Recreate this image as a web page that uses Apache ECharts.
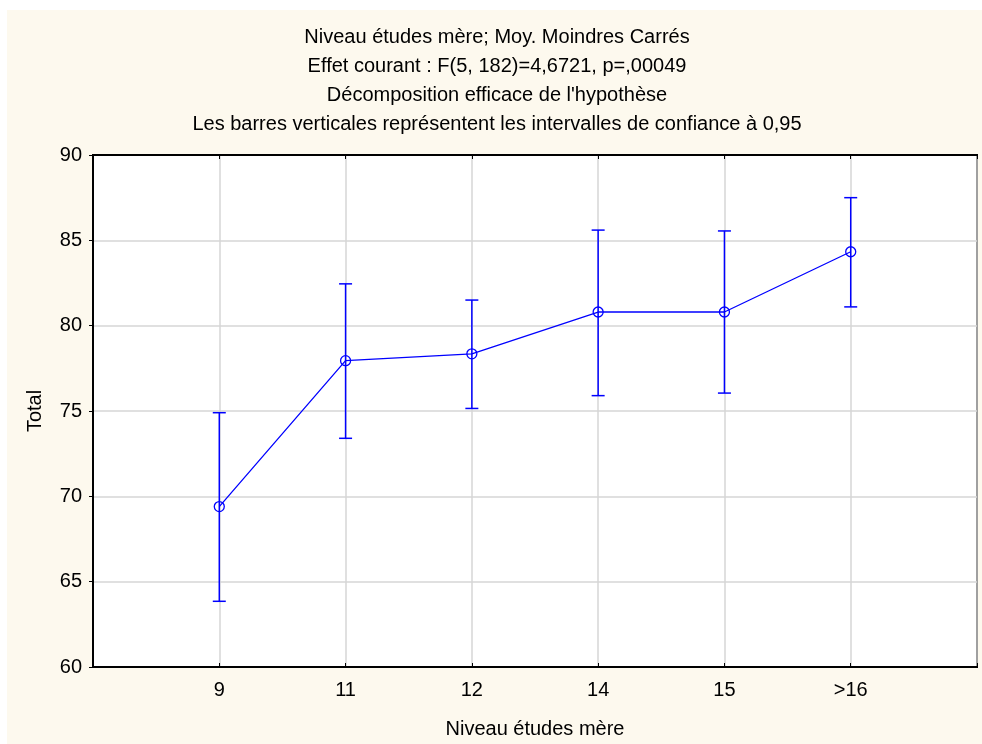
<!DOCTYPE html>
<html>
<head>
<meta charset="utf-8">
<script src="https://cdn.jsdelivr.net/npm/echarts@6/dist/echarts.min.js"></script>
<style>
  html, body { margin: 0; padding: 0; background: #ffffff; }
  #chart { width: 982px; height: 744px; }
</style>
</head>
<body>
<div id="chart"></div>
<script>
// Mean totals by mother's education level, with 95% confidence limits
const categories = ['9', '11', '12', '14', '15', '>16'];
const means = [69.4, 77.95, 78.35, 80.8, 80.8, 84.33];
const lowerCI = [63.85, 73.4, 75.15, 75.9, 76.05, 81.1];
const upperCI = [74.9, 82.45, 81.5, 85.6, 85.55, 87.5];
const yTicks = { min: 60, max: 90, step: 5 };

const titleLines = [
  'Niveau études mère; Moy. Moindres Carrés',
  'Effet courant : F(5, 182)=4,6721, p=,00049',
  "Décomposition efficace de l'hypothèse",
  'Les barres verticales représentent les intervalles de confiance à 0,95'
];

const FONT = '"Liberation Sans", Arial, sans-serif';
const FS = 20;
const BLUE = '#0000ff';

const linePoints = means.map((m, i) => [i + 1, m]);
const barData = categories.map((c, i) => [i + 1, lowerCI[i], upperCI[i]]);

const chart = echarts.init(document.getElementById('chart'), null, { renderer: 'canvas' });

chart.setOption({
  backgroundColor: '#ffffff',
  animation: false,
  textStyle: { fontFamily: FONT },
  graphic: [{
    type: 'rect',
    z: -10,
    silent: true,
    shape: { x: 7, y: 10, width: 975, height: 734 },
    style: { fill: '#fdf9ee' }
  }],
  title: {
    text: titleLines.join('\n'),
    left: 497,
    textAlign: 'center',
    top: 23,
    padding: 0,
    textStyle: {
      fontFamily: FONT,
      fontSize: FS,
      fontWeight: 'normal',
      color: '#000',
      lineHeight: 29
    }
  },
  grid: {
    left: 93, top: 155, right: 5, bottom: 76,
    show: true,
    backgroundColor: '#ffffff',
    borderColor: '#000000',
    borderWidth: 2
  },
  xAxis: [{
    type: 'value',
    min: 0, max: 7, interval: 1,
    name: 'Niveau études mère',
    nameLocation: 'middle',
    nameGap: 52,
    nameTextStyle: { fontFamily: FONT, fontSize: FS, color: '#000' },
    axisLine: { show: true, lineStyle: { color: '#000', width: 2 } },
    axisTick: { show: true, inside: true, length: 4, lineStyle: { color: '#000' } },
    axisLabel: {
      fontFamily: FONT, fontSize: FS, color: '#000', margin: 13,
      formatter: v => (v >= 1 && v <= categories.length) ? categories[v - 1] : ''
    },
    splitLine: { show: true, lineStyle: { color: '#d6d6d6', width: 1.5 } }
  }, {
    type: 'value',
    position: 'top',
    min: 0, max: 7, interval: 1,
    axisLine: { show: true, lineStyle: { color: '#000', width: 2 } },
    axisTick: { show: true, inside: true, length: 4, lineStyle: { color: '#000' } },
    axisLabel: { show: false },
    splitLine: { show: false }
  }],
  yAxis: [{
    type: 'value',
    min: yTicks.min, max: yTicks.max, interval: yTicks.step,
    name: 'Total',
    nameLocation: 'middle',
    nameGap: 48,
    nameTextStyle: { fontFamily: FONT, fontSize: FS, color: '#000' },
    axisLine: { show: true, lineStyle: { color: '#000', width: 2 } },
    axisTick: { show: true, inside: false, length: 4, lineStyle: { color: '#000' } },
    axisLabel: { fontFamily: FONT, fontSize: FS, color: '#000', margin: 11 },
    splitLine: { show: true, lineStyle: { color: '#d6d6d6', width: 1.5 } }
  }, {
    type: 'value',
    position: 'right',
    min: yTicks.min, max: yTicks.max, interval: yTicks.step,
    axisLine: { show: true, lineStyle: { color: '#000', width: 2 } },
    axisTick: { show: true, inside: true, length: 4, lineStyle: { color: '#000' } },
    axisLabel: { show: false },
    splitLine: { show: false }
  }],
  series: [{
    type: 'custom',
    name: 'IC 0,95',
    xAxisIndex: 0,
    yAxisIndex: 0,
    z: 3,
    data: barData,
    renderItem: function (params, api) {
      const x = api.value(0);
      const lo = api.coord([x, api.value(1)]);
      const hi = api.coord([x, api.value(2)]);
      const half = 6.5;
      const style = { stroke: BLUE, lineWidth: 1.5 };
      return {
        type: 'group',
        children: [
          { type: 'line', shape: { x1: hi[0], y1: hi[1], x2: lo[0], y2: lo[1] }, style },
          { type: 'line', shape: { x1: hi[0] - half, y1: hi[1], x2: hi[0] + half, y2: hi[1] }, style },
          { type: 'line', shape: { x1: lo[0] - half, y1: lo[1], x2: lo[0] + half, y2: lo[1] }, style }
        ]
      };
    }
  }, {
    type: 'line',
    name: 'Total',
    xAxisIndex: 0,
    yAxisIndex: 0,
    z: 4,
    data: linePoints,
    symbol: 'circle',
    symbolSize: 10,
    showAllSymbol: true,
    lineStyle: { color: BLUE, width: 1.3 },
    itemStyle: { color: 'rgba(0,0,0,0)', borderColor: BLUE, borderWidth: 1.3, opacity: 1 }
  }]
});
</script>
</body>
</html>
